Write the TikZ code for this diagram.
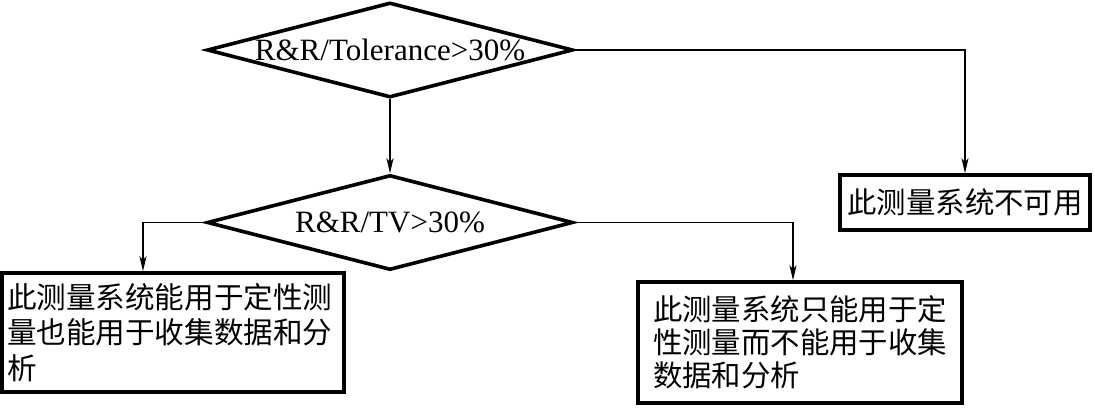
\documentclass[tikz,border=0pt]{standalone}
\usepackage{fontspec}
\setmainfont{Liberation Serif}
\newfontfamily\cjk{Noto Sans CJK SC}
\usetikzlibrary{shapes.geometric,arrows.meta}
\begin{document}
\begin{tikzpicture}[x=1pt,y=-1pt,
  dia/.style={diamond,draw,line width=3.6pt,minimum width=366pt,minimum height=95pt,inner sep=0pt,aspect=3.85},
  diatext/.style={font=\fontsize{31}{36}\selectfont,inner sep=0pt},
  box/.style={draw,line width=3.6pt,inner ysep=0pt,align=left},
  conn/.style={line width=1.5pt,-{Stealth[length=15pt,width=7pt,inset=4pt]}}]
\useasboundingbox (0,0) rectangle (1095,407);
\node[dia] (d1) at (390,50) {};
\node[diatext] (t1) at (390,50) {R\&R/Tolerance>30\%};
\node[dia] (d2) at (390,222.5) {};
\node[diatext] (t2) at (390,222.5) {R\&R/TV>30\%};
\node[box,align=center,inner xsep=0pt,minimum width=250pt,minimum height=55pt,
      font=\cjk\fontsize{29.4}{34}\selectfont] (r1) at (965,202.5) {此测量系统不可用};
\node[box,inner xsep=5pt,text width=332pt,minimum height=119pt,
      font=\cjk\fontsize{29.6}{35.5}\selectfont] (bl) at (173,332.5)
      {此测量系统能用于定性测\\量也能用于收集数据和分\\析};
\node[box,inner xsep=15pt,text width=294pt,minimum height=121pt,
      font=\cjk\fontsize{29.4}{33}\selectfont] (br) at (800,342.5)
      {此测量系统只能用于定\\性测量而不能用于收集\\数据和分析};
\draw[conn] (d1.east) -| (r1.north);
\draw[conn] (d1.south) -- (d2.north);
\draw[conn] (d2.west) -| ([xshift=-30pt]bl.north);
\draw[conn] (d2.east) -| ([xshift=-7pt]br.north);
\end{tikzpicture}
\end{document}
